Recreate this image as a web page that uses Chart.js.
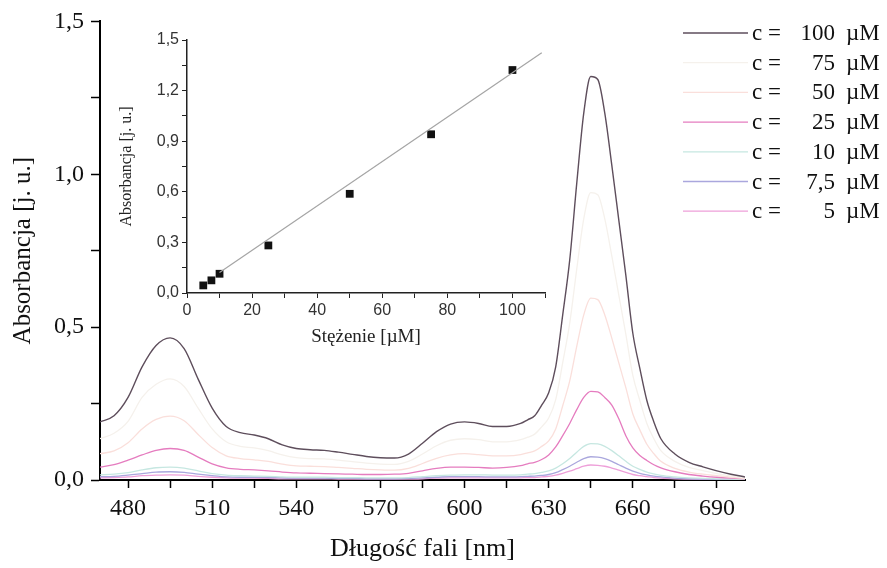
<!DOCTYPE html>
<html>
<head>
<meta charset="utf-8">
<script src="https://cdn.jsdelivr.net/npm/chart.js@4.4.1/dist/chart.umd.min.js"></script>
<style>
  body { margin: 0; background: #fff; }
  #wrap { position: relative; width: 887px; height: 568px; }
  #wrap canvas { position: absolute; left: 0; top: 0; }
</style>
</head>
<body>
<div id="wrap">
  <canvas id="mainChart" width="887" height="568"></canvas>
  <canvas id="insetChart" width="887" height="568"></canvas>
</div>
<script>
// wavelengths [nm]
const wavelengths = [470, 475, 480, 485, 490, 495, 500, 505, 510, 515, 520, 525, 530, 535, 540, 545, 550,
  555, 560, 565, 570, 575, 580, 585, 590, 595, 600, 605, 610, 615, 620,
  622.5, 625, 627.5, 630, 632.5, 635, 637.5, 640, 642.5, 645, 647.5, 650, 652.5, 655, 657.5, 660,
  662.5, 665, 667.5, 670, 675, 680, 685, 690, 695, 700];

// absorbance spectra for each concentration
const abs100 = [0.19, 0.21, 0.27, 0.37, 0.44, 0.465, 0.43, 0.33, 0.235, 0.175, 0.155, 0.147, 0.135, 0.115, 0.103, 0.099, 0.097,
  0.091, 0.084, 0.077, 0.073, 0.072, 0.085, 0.12, 0.158, 0.183, 0.19, 0.185, 0.175, 0.175, 0.185,
  0.197, 0.21, 0.245, 0.285, 0.37, 0.54, 0.72, 0.97, 1.2, 1.32, 1.31, 1.2, 1.03, 0.85, 0.67, 0.48,
  0.365, 0.26, 0.19, 0.135, 0.085, 0.058, 0.043, 0.03, 0.019, 0.01];
const abs75 = [0.135, 0.153, 0.192, 0.27, 0.313, 0.331, 0.306, 0.235, 0.167, 0.125, 0.11, 0.105, 0.096, 0.082, 0.073, 0.07, 0.069,
  0.065, 0.06, 0.055, 0.052, 0.051, 0.061, 0.085, 0.112, 0.13, 0.135, 0.132, 0.125, 0.125, 0.132,
  0.14, 0.15, 0.174, 0.203, 0.263, 0.384, 0.513, 0.69, 0.854, 0.94, 0.933, 0.854, 0.733, 0.605, 0.477, 0.342,
  0.26, 0.185, 0.135, 0.096, 0.061, 0.041, 0.031, 0.021, 0.014, 0.007];
const abs50 = [0.086, 0.095, 0.122, 0.167, 0.198, 0.209, 0.194, 0.149, 0.106, 0.079, 0.07, 0.066, 0.061, 0.052, 0.046, 0.045, 0.044,
  0.041, 0.038, 0.035, 0.033, 0.032, 0.038, 0.054, 0.071, 0.082, 0.086, 0.083, 0.079, 0.079, 0.083,
  0.089, 0.095, 0.11, 0.128, 0.167, 0.243, 0.324, 0.437, 0.54, 0.595, 0.59, 0.54, 0.464, 0.383, 0.302, 0.216,
  0.164, 0.117, 0.086, 0.061, 0.038, 0.026, 0.019, 0.014, 0.009, 0.005];
const abs25 = [0.042, 0.05, 0.065, 0.082, 0.097, 0.103, 0.097, 0.075, 0.053, 0.04, 0.035, 0.033, 0.03, 0.026, 0.023, 0.022, 0.021,
  0.02, 0.019, 0.018, 0.018, 0.019, 0.022, 0.03, 0.038, 0.042, 0.042, 0.041, 0.039, 0.041, 0.047,
  0.053, 0.058, 0.067, 0.082, 0.108, 0.145, 0.185, 0.23, 0.27, 0.29, 0.288, 0.27, 0.245, 0.2, 0.145, 0.105,
  0.08, 0.064, 0.05, 0.04, 0.027, 0.018, 0.013, 0.009, 0.006, 0.004];
const abs10 = [0.017, 0.019, 0.024, 0.033, 0.04, 0.042, 0.039, 0.03, 0.021, 0.016, 0.014, 0.013, 0.012, 0.01, 0.009, 0.009, 0.009,
  0.008, 0.008, 0.007, 0.007, 0.007, 0.008, 0.011, 0.014, 0.016, 0.017, 0.017, 0.016, 0.016, 0.017,
  0.019, 0.021, 0.025, 0.03, 0.039, 0.053, 0.07, 0.091, 0.11, 0.119, 0.118, 0.11, 0.096, 0.079, 0.061, 0.045,
  0.035, 0.026, 0.02, 0.015, 0.01, 0.007, 0.005, 0.004, 0.003, 0.002];
const abs7_5 = [0.011, 0.012, 0.016, 0.021, 0.026, 0.027, 0.025, 0.019, 0.014, 0.01, 0.009, 0.009, 0.008, 0.007, 0.006, 0.006, 0.006,
  0.005, 0.005, 0.004, 0.004, 0.004, 0.005, 0.007, 0.009, 0.011, 0.011, 0.011, 0.01, 0.01, 0.011,
  0.012, 0.013, 0.015, 0.018, 0.024, 0.034, 0.045, 0.058, 0.07, 0.076, 0.075, 0.07, 0.061, 0.05, 0.039, 0.029,
  0.022, 0.017, 0.013, 0.01, 0.006, 0.004, 0.003, 0.002, 0.002, 0.001];
const abs5 = [0.007, 0.008, 0.01, 0.014, 0.016, 0.017, 0.016, 0.012, 0.009, 0.007, 0.006, 0.006, 0.005, 0.004, 0.004, 0.004, 0.004,
  0.003, 0.003, 0.003, 0.003, 0.003, 0.003, 0.004, 0.006, 0.007, 0.007, 0.007, 0.007, 0.007, 0.007,
  0.008, 0.008, 0.01, 0.012, 0.016, 0.022, 0.029, 0.037, 0.045, 0.049, 0.048, 0.045, 0.039, 0.032, 0.025, 0.018,
  0.014, 0.011, 0.008, 0.006, 0.004, 0.003, 0.002, 0.001, 0.001, 0.001];

const concLabels = ["100", "75", "50", "25", "10", "7,5", "5"];
const lineColors = ["#5e4e5c", "#f5f1ec", "#fadfdb", "#e57cbf", "#c6e7e1", "#aaa7dd", "#ee9fd9"];

// inset: absorbance at peak vs concentration
const insetConc = [5, 7.5, 10, 25, 50, 75, 100];
const insetAbs = [0.045, 0.075, 0.114, 0.282, 0.588, 0.941, 1.322];
const fitConc = [10, 109];
const fitAbs = [0.122, 1.425];

const serif = '"Liberation Serif", "Times New Roman", serif';
const sans = '"Liberation Sans", Arial, sans-serif';

function comma(v, d) {
  return v.toFixed(d).replace(".", ",");
}

const spectra = [abs100, abs75, abs50, abs25, abs10, abs7_5, abs5];

const legendPlugin = {
  id: "concLegend",
  afterDraw(chart) {
    const c = chart.ctx;
    c.save();
    c.font = "23px " + serif;
    c.textBaseline = "middle";
    concLabels.forEach((lab, i) => {
      const y = 33 + i * 29.7;
      c.strokeStyle = lineColors[i];
      c.lineWidth = 1.3;
      c.beginPath();
      c.moveTo(683, y);
      c.lineTo(748, y);
      c.stroke();
      c.fillStyle = "#111";
      c.textAlign = "left";
      c.fillText("c =", 752, y + 1);
      c.textAlign = "right";
      c.fillText(lab, 835, y + 1);
      c.textAlign = "left";
      c.fillText("\u00b5M", 846, y + 1);
    });
    c.restore();
  }
};

new Chart(document.getElementById("mainChart"), {
  type: "line",
  data: {
    datasets: spectra.map((arr, i) => ({
      label: "c = " + concLabels[i] + " \u00b5M",
      data: wavelengths.map((w, k) => ({ x: w, y: arr[k] })),
      borderColor: lineColors[i],
      borderWidth: i === 0 ? 1.4 : 1.3,
      pointRadius: 0,
      cubicInterpolationMode: "monotone",
      fill: false
    }))
  },
  options: {
    responsive: false,
    animation: false,
    events: [],
    layout: { padding: { top: 18, right: 142, left: 0, bottom: 0 } },
    plugins: { legend: { display: false }, tooltip: { enabled: false } },
    scales: {
      x: {
        type: "linear",
        min: 470,
        max: 700,
        afterFit: (s) => { s.height = 88; },
        border: { display: true, color: "#000", width: 2 },
        grid: { drawOnChartArea: false, tickLength: 8, color: "#000", tickWidth: 1.5 },
        ticks: {
          stepSize: 15,
          includeBounds: false,
          autoSkip: false,
          maxRotation: 0,
          padding: 6,
          color: "#111",
          font: { family: serif, size: 24 },
          callback: (v) => (v % 30 === 0 ? String(v) : "")
        },
        title: {
          display: true,
          text: "D\u0142ugo\u015b\u0107 fali [nm]",
          color: "#111",
          font: { family: serif, size: 26 },
          padding: { top: 0, bottom: 3 }
        }
      },
      y: {
        min: 0,
        max: 1.5,
        afterFit: (s) => { s.width = 100; },
        border: { display: true, color: "#000", width: 2 },
        grid: { drawOnChartArea: false, tickLength: 9, color: "#000", tickWidth: 1.5 },
        ticks: {
          stepSize: 0.25,
          autoSkip: false,
          padding: 7,
          color: "#111",
          font: { family: serif, size: 24 },
          callback: (v) => (Math.round(v * 100) % 50 === 0 ? comma(v, 1) : "")
        },
        title: {
          display: true,
          text: "Absorbancja [j. u.]",
          color: "#111",
          font: { family: serif, size: 25 },
          padding: { top: 8, bottom: 0 }
        }
      }
    }
  },
  plugins: [legendPlugin]
});

new Chart(document.getElementById("insetChart"), {
  type: "scatter",
  data: {
    datasets: [
      {
        label: "fit",
        type: "line",
        data: fitConc.map((x, k) => ({ x: x, y: fitAbs[k] })),
        borderColor: "#a5a5a5",
        borderWidth: 1.2,
        pointRadius: 0,
        fill: false
      },
      {
        label: "A",
        data: insetConc.map((x, k) => ({ x: x, y: insetAbs[k] })),
        pointStyle: "rect",
        pointRadius: 5.5,
        backgroundColor: "#111",
        borderColor: "#111",
        borderWidth: 0
      }
    ]
  },
  options: {
    responsive: false,
    animation: false,
    events: [],
    layout: { padding: { top: 40, right: 342, left: 100, bottom: 220 } },
    plugins: { legend: { display: false }, tooltip: { enabled: false } },
    scales: {
      x: {
        type: "linear",
        min: 0,
        max: 110,
        afterFit: (s) => { s.height = 55; },
        border: { display: true, color: "#222", width: 1.5 },
        grid: { drawOnChartArea: false, tickLength: 5, color: "#222" },
        ticks: {
          stepSize: 10,
          autoSkip: false,
          maxRotation: 0,
          padding: 3,
          color: "#333",
          font: { family: sans, size: 16 },
          callback: (v) => (v % 20 === 0 && v <= 100 ? String(v) : "")
        },
        title: {
          display: true,
          text: "St\u0119\u017cenie [\u00b5M]",
          color: "#222",
          font: { family: serif, size: 19 },
          padding: { top: 0, bottom: 0 }
        }
      },
      y: {
        min: 0,
        max: 1.5,
        afterFit: (s) => { s.width = 87; },
        border: { display: true, color: "#222", width: 1.5 },
        grid: { drawOnChartArea: false, tickLength: 5, color: "#222" },
        ticks: {
          stepSize: 0.15,
          autoSkip: false,
          padding: 3,
          color: "#333",
          font: { family: sans, size: 16 },
          callback: (v) => (Math.round(v * 100) % 30 === 0 ? comma(v, 1) : "")
        },
        title: {
          display: true,
          text: "Absorbancja [j. u.]",
          color: "#222",
          font: { family: serif, size: 16 },
          padding: { top: 17, bottom: 0 }
        }
      }
    }
  }
});
</script>
</body>
</html>
